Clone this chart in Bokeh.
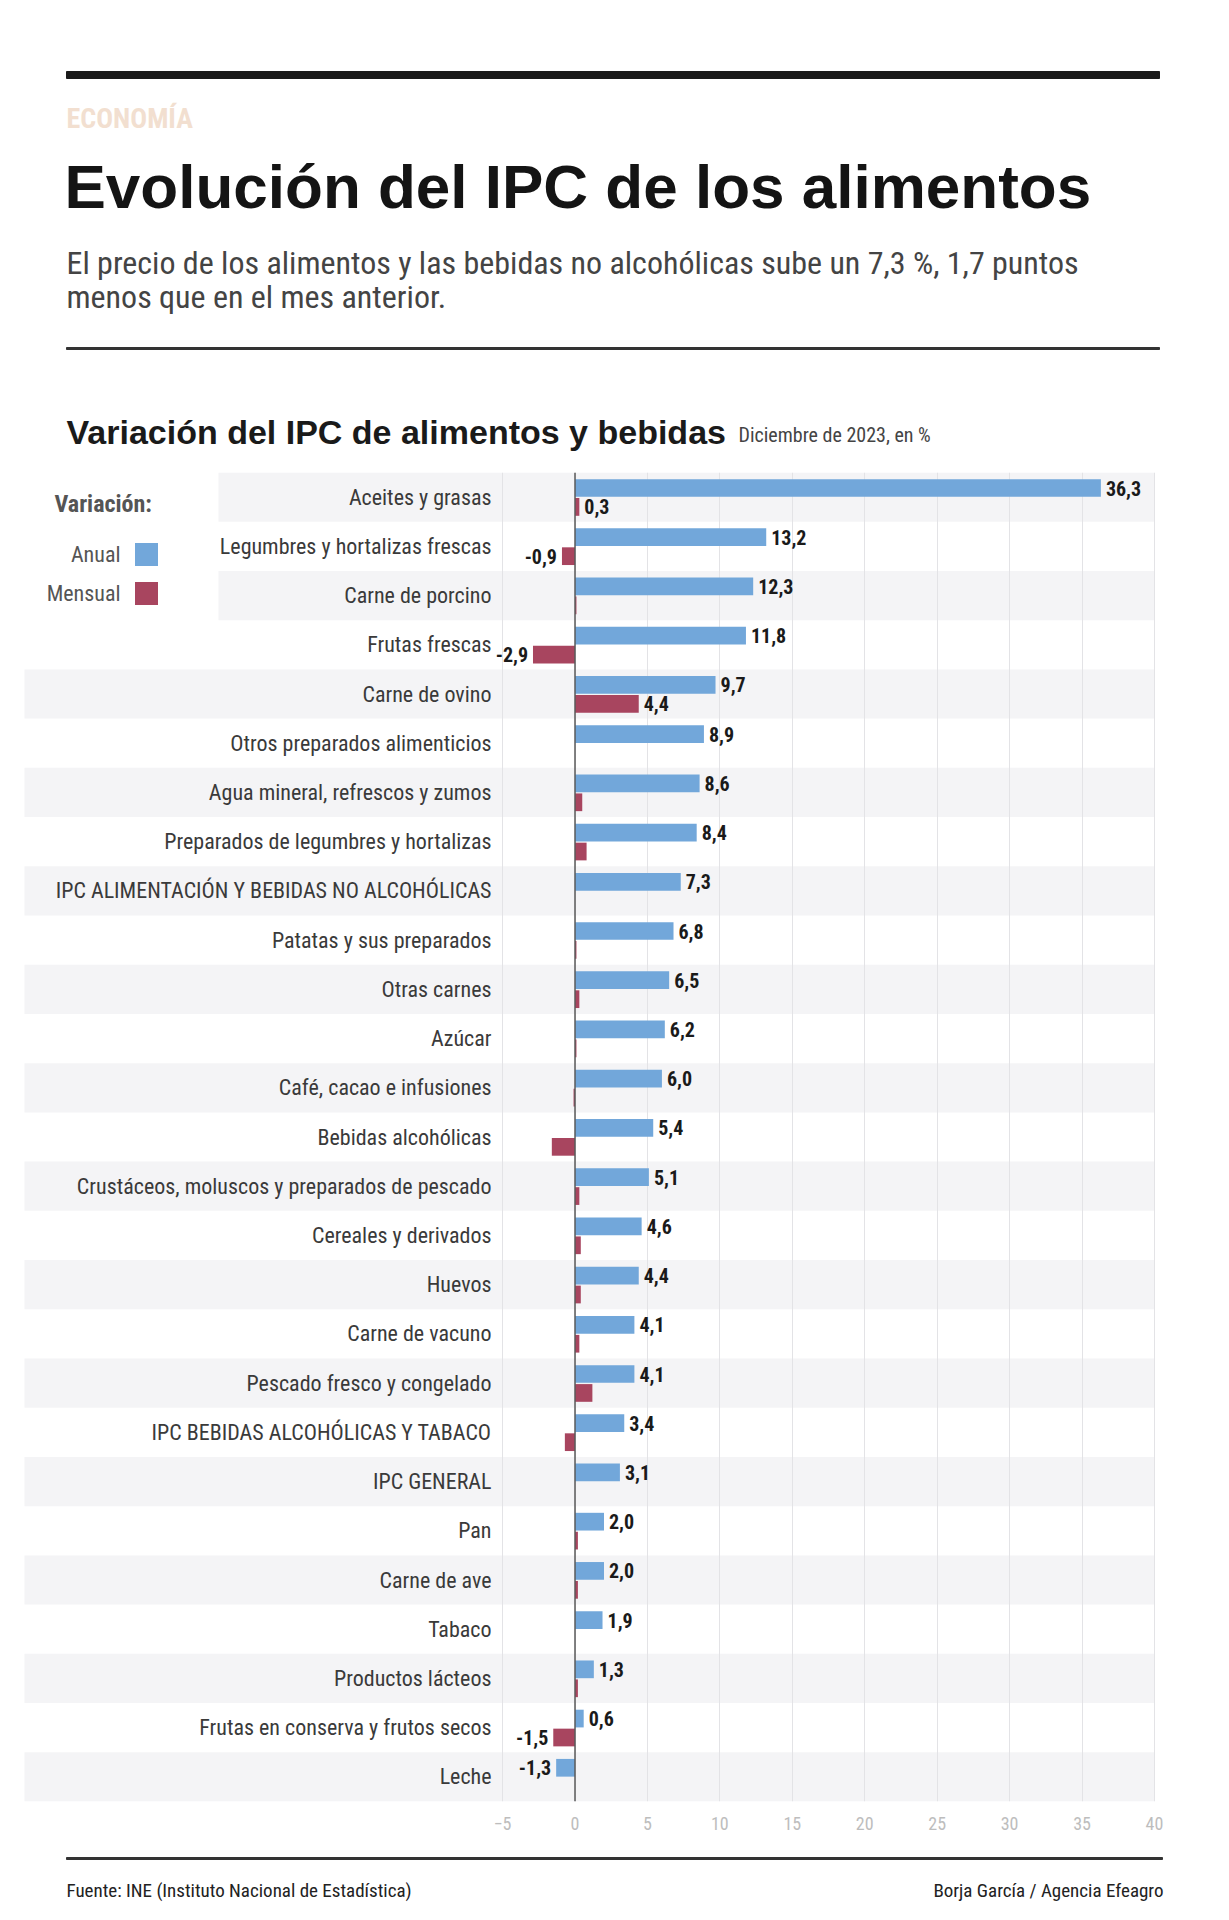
from bokeh.plotting import figure
from bokeh.layouts import column
from bokeh.models import Range1d, FixedTicker, Span, ColumnDataSource
from bokeh.core.properties import value
from bokeh.embed import file_html
from bokeh.resources import INLINE

# ---------------- data ----------------
categorias = [
    "Aceites y grasas", "Legumbres y hortalizas frescas", "Carne de porcino",
    "Frutas frescas", "Carne de ovino", "Otros preparados alimenticios",
    "Agua mineral, refrescos y zumos", "Preparados de legumbres y hortalizas",
    "IPC ALIMENTACIÓN Y BEBIDAS NO ALCOHÓLICAS", "Patatas y sus preparados",
    "Otras carnes", "Azúcar", "Café, cacao e infusiones", "Bebidas alcohólicas",
    "Crustáceos, moluscos y preparados de pescado", "Cereales y derivados",
    "Huevos", "Carne de vacuno", "Pescado fresco y congelado",
    "IPC BEBIDAS ALCOHÓLICAS Y TABACO", "IPC GENERAL", "Pan", "Carne de ave",
    "Tabaco", "Productos lácteos", "Frutas en conserva y frutos secos", "Leche",
]
anual = [36.3, 13.2, 12.3, 11.8, 9.7, 8.9, 8.6, 8.4, 7.3, 6.8, 6.5, 6.2, 6.0,
         5.4, 5.1, 4.6, 4.4, 4.1, 4.1, 3.4, 3.1, 2.0, 2.0, 1.9, 1.3, 0.6, -1.3]
mensual = [0.3, -0.9, 0.1, -2.9, 4.4, 0.0, 0.5, 0.8, 0.0, 0.1, 0.3, 0.1, -0.1,
           -1.6, 0.3, 0.4, 0.4, 0.3, 1.2, -0.7, 0.0, 0.2, 0.2, 0.0, 0.2, -1.5, 0.0]
mensual_con_etiqueta = ["Aceites y grasas", "Legumbres y hortalizas frescas",
                        "Frutas frescas", "Carne de ovino",
                        "Frutas en conserva y frutos secos"]
ticks_x = [-5, 0, 5, 10, 15, 20, 25, 30, 35, 40]

BLUE = "#72a7da"
RED = "#a8455f"
BAND = "#f4f4f6"
COND = "Roboto Condensed"
SANS = "Liberation Sans"

W = 1229


def fmt(v):
    return f"{v:.1f}".replace(".", ",")


def blank(h):
    f = figure(width=W, height=h, x_range=Range1d(0, W), y_range=Range1d(h, 0),
               x_axis_type=None, y_axis_type=None, toolbar_location=None,
               output_backend="svg", min_border=0, outline_line_color=None)
    f.grid.visible = False
    return f


# ---------------- header ----------------
H1 = 472
hdr = blank(H1)
hdr.quad(left=[66], right=[1159], top=[71], bottom=[78], color="#1a1a1a")
hdr.quad(left=[66], right=[1159], top=[347], bottom=[349], color="#333333")
hdr.text(x=[66], y=[118], text=["ECONOMÍA"], text_font=value(COND),
         text_font_size="28px", text_font_style="bold", text_color="#f2dfd0",
         text_baseline="middle")
hdr.text(x=[64], y=[186], text=["Evolución del IPC de los alimentos"],
         text_font=value(SANS), text_font_size="62px", text_font_style="bold",
         text_color="#141414", text_baseline="middle")
hdr.text(x=[66, 66], y=[262, 296],
         text=["El precio de los alimentos y las bebidas no alcohólicas sube un 7,3 %, 1,7 puntos",
               "menos que en el mes anterior."],
         text_font=value(COND), text_font_size="32px", text_color="#444444",
         text_baseline="middle")
hdr.text(x=[66], y=[431], text=["Variación del IPC de alimentos y bebidas"],
         text_font=value(SANS), text_font_size="34px", text_font_style="bold",
         text_color="#1a1a1a", text_baseline="middle")
hdr.text(x=[738], y=[434], text=["Diciembre de 2023, en %"],
         text_font=value(COND), text_font_size="20px", text_color="#444444",
         text_baseline="middle")

# ---------------- chart ----------------
n = len(categorias)
ZERO_PX = 574.5
PXU = 14.487
FRAME_H = 1329
BOTTOM = 40


def dx(px):
    return (px - ZERO_PX) / PXU


row_h = FRAME_H / n


def dy(px):
    return (px - H1) / row_h - 0.5


X0, X1 = dx(0), dx(W)
XEND = 40

ch = figure(width=W, height=FRAME_H + BOTTOM,
            x_range=Range1d(X0, X1), y_range=Range1d(n - 0.5, -0.5),
            y_axis_type=None, toolbar_location=None, output_backend="svg",
            min_border_left=0, min_border_right=0,
            min_border_top=0, min_border_bottom=BOTTOM,
            outline_line_color=None)

idx = list(range(n))

band_rows = [i for i in idx if i % 2 == 0]
band_left = [dx(218) if i < 4 else dx(24) for i in band_rows]
bands = ch.quad(left=band_left, right=[XEND] * len(band_rows),
                top=[i - 0.5 for i in band_rows], bottom=[i + 0.5 for i in band_rows],
                color=BAND, line_color=None)
bands.level = "image"

ch.xgrid.ticker = FixedTicker(ticks=ticks_x)
ch.xgrid.grid_line_color = "#e3e3e6"
ch.xgrid.grid_line_width = 1
ch.ygrid.visible = False

src = ColumnDataSource(dict(
    y=idx, cat=categorias, anual=anual, mensual=mensual,
    ya=[i - 0.185 for i in idx], ym=[i + 0.2 for i in idx],
))
ch.hbar(y="ya", left=0, right="anual", height=0.36, source=src,
        fill_color=BLUE, line_color=None)
ch.hbar(y="ym", left=0, right="mensual", height=0.36, source=src,
        fill_color=RED, line_color=None)

ch.add_layout(Span(location=0, dimension="height", line_color="#5a5a5a",
                   line_width=1.5))

ch.text(x=[dx(491)] * n, y=idx, text=categorias, text_font=value(COND),
        text_font_size="22px", text_color="#3a3a3a", text_align="right",
        text_baseline="middle")


def add_vals(xs, ys, labels, positive):
    ch.text(x=xs, y=ys, text=labels, text_font=value(COND),
            text_font_size="20px", text_font_style="bold", text_color="#1a1a1a",
            text_align="left" if positive else "right", text_baseline="middle",
            x_offset=5 if positive else -5)


pa = [i for i in idx if anual[i] >= 0]
na = [i for i in idx if anual[i] < 0]
add_vals([anual[i] for i in pa], [i - 0.185 for i in pa], [fmt(anual[i]) for i in pa], True)
add_vals([anual[i] for i in na], [i - 0.185 for i in na], [fmt(anual[i]) for i in na], False)
lm = [i for i in idx if categorias[i] in mensual_con_etiqueta]
pm = [i for i in lm if mensual[i] >= 0]
nm = [i for i in lm if mensual[i] < 0]
add_vals([mensual[i] for i in pm], [i + 0.2 for i in pm], [fmt(mensual[i]) for i in pm], True)
add_vals([mensual[i] for i in nm], [i + 0.2 for i in nm], [fmt(mensual[i]) for i in nm], False)

# legend
ch.text(x=[dx(54)], y=[dy(503)], text=["Variación:"], text_font=value(COND),
        text_font_size="24px", text_font_style="bold", text_color="#555555",
        text_baseline="middle")
ch.text(x=[dx(120), dx(120)], y=[dy(554), dy(593)], text=["Anual", "Mensual"],
        text_font=value(COND), text_font_size="22px", text_color="#555555",
        text_align="right", text_baseline="middle")
ch.rect(x=[dx(146), dx(146)], y=[dy(554), dy(593)], width=23 / PXU,
        height=23 / row_h, fill_color=[BLUE, RED], line_color=None)

ax = ch.xaxis[0]
ax.ticker = FixedTicker(ticks=ticks_x)
ax.axis_line_color = None
ax.major_tick_line_color = None
ax.minor_tick_line_color = None
ax.major_label_standoff = 9
ax.major_label_text_font = COND
ax.major_label_text_font_size = "18px"
ax.major_label_text_color = "#bdbdbd"

# ---------------- footer ----------------
H3 = 1920 - H1 - FRAME_H - BOTTOM
ft = blank(H3)
ft.quad(left=[66], right=[1162], top=[16], bottom=[18], color="#333333")
ft.text(x=[66], y=[49], text=["Fuente: INE (Instituto Nacional de Estadística)"],
        text_font=value(COND), text_font_size="19px", text_color="#222222",
        text_baseline="middle")
ft.text(x=[1163], y=[49], text=["Borja García / Agencia Efeagro"],
        text_font=value(COND), text_font_size="19px", text_color="#222222",
        text_align="right", text_baseline="middle")

p = column(hdr, ch, ft, spacing=0)
open("out.html", "w").write(file_html(p, INLINE))
